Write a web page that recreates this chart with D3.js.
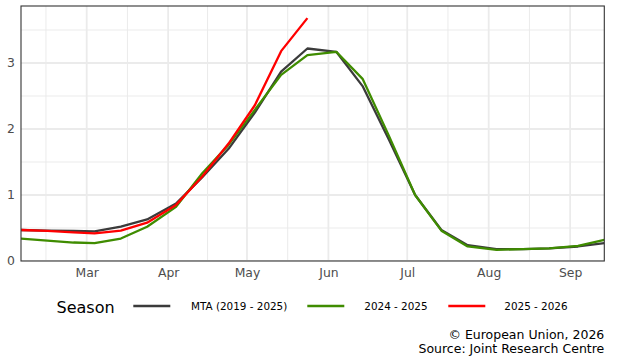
<!DOCTYPE html>
<html>
<head>
<meta charset="utf-8">
<script src="https://cdn.jsdelivr.net/npm/d3@7"></script>
<style>
  html, body { margin: 0; padding: 0; background: #ffffff; }
  svg { display: block; font-family: "DejaVu Sans", sans-serif; }
</style>
</head>
<body>
<svg id="chart" width="619" height="358"></svg>
<script>
// ---- data ----
const dates = ["2025-02-04","2025-02-14","2025-02-24","2025-03-04","2025-03-14","2025-03-24",
  "2025-04-04","2025-04-14","2025-04-24","2025-05-04","2025-05-14","2025-05-24",
  "2025-06-04","2025-06-14","2025-06-24","2025-07-04","2025-07-14","2025-07-24",
  "2025-08-04","2025-08-14","2025-08-24","2025-09-04","2025-09-14"];
const mta = [0.47,0.46,0.455,0.45,0.52,0.63,0.87,1.27,1.70,2.25,2.87,3.22,3.17,2.65,1.84,1.00,0.47,0.24,0.18,0.18,0.19,0.22,0.27];
const s2024 = [0.34,0.31,0.28,0.27,0.34,0.52,0.82,1.33,1.76,2.29,2.82,3.12,3.17,2.76,1.90,1.00,0.46,0.22,0.17,0.18,0.19,0.23,0.32];
const s2025 = [0.47,0.455,0.435,0.42,0.46,0.58,0.85,1.28,1.78,2.36,3.18,3.68];
const seriesNames = ["MTA (2019 - 2025)", "2024 - 2025", "2025 - 2026"];
const seriesColors = ["#3b3b3b", "#3f8c00", "#ff0000"];
const monthBreaks = ["2025-03-01","2025-04-01","2025-05-01","2025-06-01","2025-07-01","2025-08-01","2025-09-01"];
const monthLabels = ["Mar","Apr","May","Jun","Jul","Aug","Sep"];
const yBreaks = [0, 1, 2, 3];
const yMinor = [0.5, 1.5, 2.5, 3.5];

// ---- layout ----
const svg = d3.select("#chart");
const P = { left: 21, right: 604.3, top: 6, bottom: 261 };
const parse = d3.utcParse("%Y-%m-%d");
const dts = dates.map(parse);
const x = d3.scaleUtc().domain([dts[0], dts[dts.length - 1]]).range([P.left, P.right]);
const ymax = d3.max([...mta, ...s2024, ...s2025]) * 1.05;
const y = d3.scaleLinear().domain([0, ymax]).range([P.bottom, P.top]);

const mb = monthBreaks.map(parse);
// minor breaks: midpoints between majors, extending one step before the first
const step = mb[1] - mb[0];
const ext = [new Date(mb[0] - step), ...mb];
const xMinor = [];
for (let i = 0; i < ext.length - 1; i++) xMinor.push(new Date((+ext[i] + +ext[i + 1]) / 2));

svg.append("clipPath").attr("id", "pclip").append("rect")
  .attr("x", P.left).attr("y", P.top).attr("width", P.right - P.left).attr("height", P.bottom - P.top);

const grid = svg.append("g").attr("clip-path", "url(#pclip)");
grid.selectAll(".ymin").data(yMinor).join("line")
  .attr("x1", P.left).attr("x2", P.right).attr("y1", d => y(d)).attr("y2", d => y(d))
  .attr("stroke", "#ebebeb").attr("stroke-width", 1);
grid.selectAll(".xmin").data(xMinor.filter(d => x(d) > P.left && x(d) < P.right)).join("line")
  .attr("y1", P.top).attr("y2", P.bottom).attr("x1", d => x(d)).attr("x2", d => x(d))
  .attr("stroke", "#ebebeb").attr("stroke-width", 1);
grid.selectAll(".ymaj").data(yBreaks).join("line")
  .attr("x1", P.left).attr("x2", P.right).attr("y1", d => y(d)).attr("y2", d => y(d))
  .attr("stroke", "#ebebeb").attr("stroke-width", 1.8);
grid.selectAll(".xmaj").data(mb).join("line")
  .attr("y1", P.top).attr("y2", P.bottom).attr("x1", d => x(d)).attr("x2", d => x(d))
  .attr("stroke", "#ebebeb").attr("stroke-width", 1.8);

// lines
const line = d3.line().x(d => x(d[0])).y(d => y(d[1]));
const allSeries = [mta, s2024, s2025];
const lg = svg.append("g").attr("clip-path", "url(#pclip)");
allSeries.forEach((vals, i) => {
  lg.append("path")
    .datum(vals.map((v, j) => [dts[j], v]))
    .attr("d", line)
    .attr("fill", "none")
    .attr("stroke", seriesColors[i])
    .attr("stroke-width", 2.3)
    .attr("stroke-linejoin", "round");
});

// panel border
svg.append("rect").attr("x", P.left).attr("y", P.top)
  .attr("width", P.right - P.left).attr("height", P.bottom - P.top)
  .attr("fill", "none").attr("stroke", "#333333").attr("stroke-width", 1.1);

// axes labels
const xAxis = d3.axisBottom(x).tickValues(mb).tickFormat((d, i) => monthLabels[i]).tickSize(0).tickPadding(0);
const gx = svg.append("g").attr("transform", `translate(0,${P.bottom})`).call(xAxis);
gx.select(".domain").remove();
gx.selectAll("text").attr("y", 0).attr("dy", "15.5px")
  .attr("fill", "#4d4d4d").style("font-size", "12.4px").style("font-family", "DejaVu Sans, sans-serif");

const yAxis = d3.axisLeft(y).tickValues(yBreaks).tickFormat(d3.format("d")).tickSize(0).tickPadding(0);
const gy = svg.append("g").attr("transform", `translate(${P.left - 6},0)`).call(yAxis);
gy.select(".domain").remove();
gy.selectAll("text").attr("x", 0)
  .attr("fill", "#4d4d4d").style("font-size", "12.4px").style("font-family", "DejaVu Sans, sans-serif");

// legend
const leg = svg.append("g");
leg.append("text").attr("x", 56.5).attr("y", 312.5).text("Season")
  .style("font-size", "16px").attr("fill", "#000");
const keyX = [133.3, 307.3, 448.3];
const labX = [191, 364.3, 504.3];
seriesNames.forEach((n, i) => {
  leg.append("line").attr("x1", keyX[i]).attr("x2", keyX[i] + 37)
    .attr("y1", 306).attr("y2", 306)
    .attr("stroke", seriesColors[i]).attr("stroke-width", 2.5);
  leg.append("text").attr("x", labX[i]).attr("y", 306).attr("dy", "0.35em").text(n)
    .style("font-size", "10.4px").attr("fill", "#000");
});

// caption
svg.append("text").attr("x", 604.3).attr("y", 338.5).attr("text-anchor", "end")
  .text("© European Union, 2026").style("font-size", "12.5px").attr("fill", "#000");
svg.append("text").attr("x", 604.3).attr("y", 352.8).attr("text-anchor", "end")
  .text("Source: Joint Research Centre").style("font-size", "12.5px").attr("fill", "#000");
</script>
</body>
</html>
